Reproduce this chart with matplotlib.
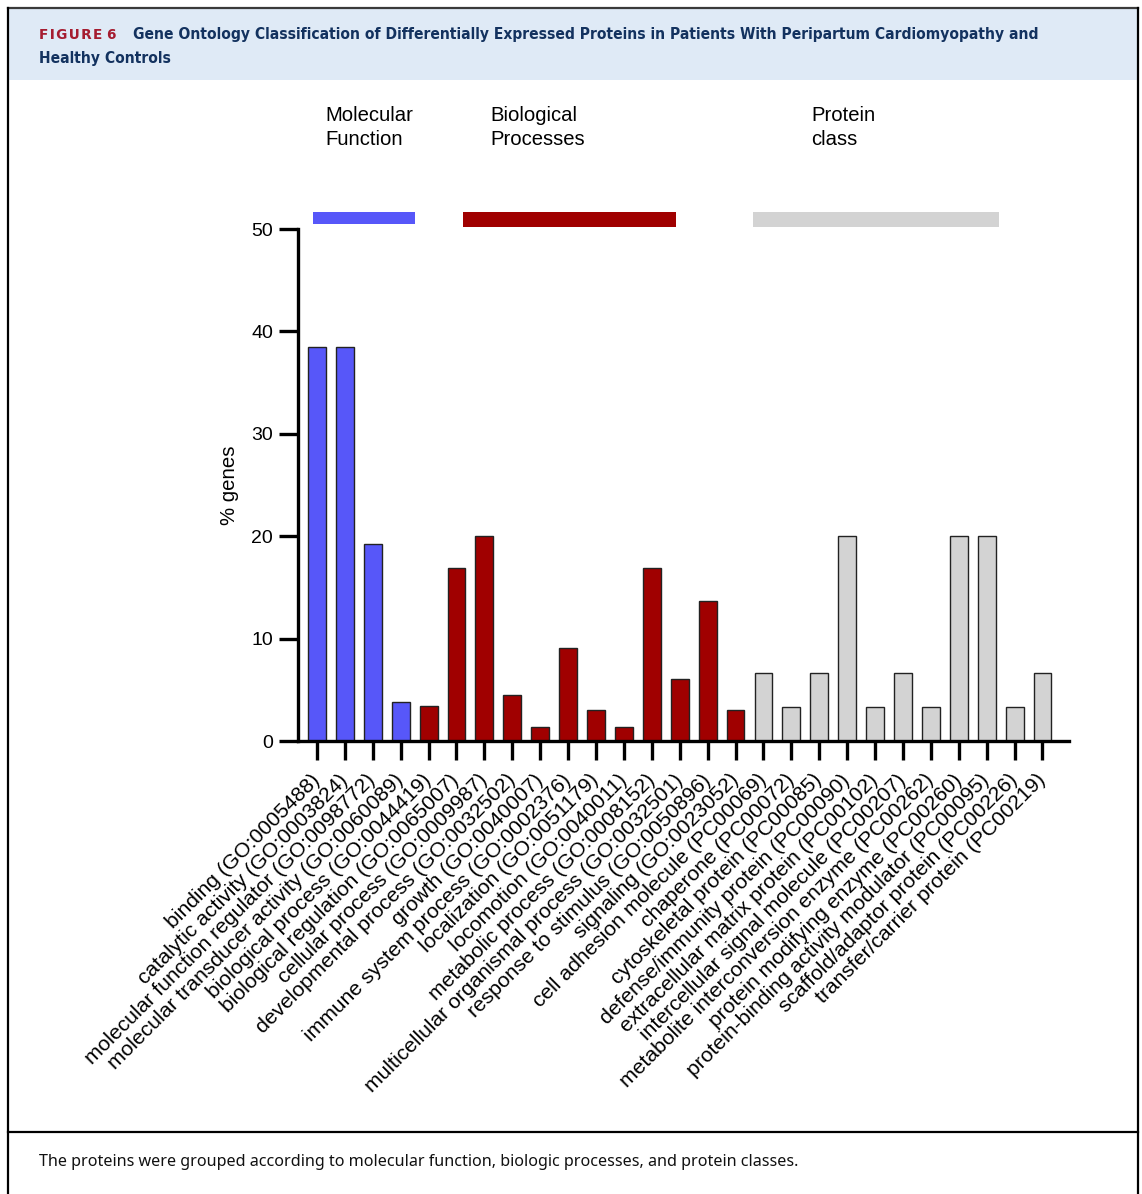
# -*- coding: utf-8 -*-
import matplotlib
matplotlib.use('Agg')
import matplotlib.pyplot as plt
from matplotlib.patches import Rectangle
from matplotlib.lines import Line2D

# data
mf_labels = ['binding (GO:0005488)', 'catalytic activity (GO:0003824)',
             'molecular function regulator (GO:0098772)',
             'molecular transducer activity (GO:0060089)']
mf_values = [38.5, 38.5, 19.2, 3.8]

bp_labels = ['biological process (GO:0044419)', 'biological regulation (GO:0065007)',
             'cellular process (GO:0009987)', 'developmental process (GO:0032502)',
             'growth (GO:0040007)', 'immune system process (GO:0002376)',
             'localization (GO:0051179)', 'locomotion (GO:0040011)',
             'metabolic process (GO:0008152)',
             'multicellular organismal process (GO:0032501)',
             'response to stimulus (GO:0050896)', 'signaling (GO:0023052)']
bp_values = [3.4, 16.9, 20.0, 4.5, 1.4, 9.1, 3.0, 1.4, 16.9, 6.1, 13.7, 3.0]

pc_labels = ['cell adhesion molecule (PC00069)', 'chaperone (PC00072)',
             'cytoskeletal protein (PC00085)', 'defense/immunity protein (PC00090)',
             'extracellular matrix protein (PC00102)',
             'intercellular signal molecule (PC00207)',
             'metabolite interconversion enzyme (PC00262)',
             'protein modifying enzyme (PC00260)',
             'protein-binding activity modulator (PC00095)',
             'scaffold/adaptor protein (PC00226)',
             'transfer/carrier protein (PC00219)']
pc_values = [6.6, 3.3, 6.6, 20.0, 3.3, 6.6, 3.3, 20.0, 20.0, 3.3, 6.6]

group_names = ['Molecular\nFunction', 'Biological\nProcesses', 'Protein\nclass']
group_colors = ['#5757f9', '#a00000', '#d3d3d3']

W, H = 1142, 1194
fig = plt.figure(figsize=(W / 100, H / 100), dpi=100)


def fx(px):
    return px / W


def fy(py):
    return 1 - py / H


# header band, frame and caption separator
fig.add_artist(Rectangle((fx(8), fy(80)), fx(1130), 72 / H, transform=fig.transFigure,
                         facecolor='#dfeaf6', edgecolor='none', zorder=0))
fig.add_artist(Line2D([fx(8), fx(1138)], [fy(8), fy(8)], color='#3a3a3a', lw=1.6))
fig.add_artist(Line2D([fx(8), fx(8)], [fy(8), 0], color='black', lw=1.6))
fig.add_artist(Line2D([fx(1138), fx(1138)], [fy(8), 0], color='black', lw=1.6))
fig.add_artist(Line2D([fx(8), fx(1138)], [fy(1132), fy(1132)], color='black', lw=1.6))

hair = '\u200a'
fig.text(fx(39), fy(39), hair.join('FIGURE') + ' 6', color='#a51c30', fontsize=9.8,
         fontweight='bold', family=['DejaVu Sans'], va='baseline')
fig.text(fx(133), fy(39), 'Gene Ontology Classification of Differentially Expressed Proteins '
         'in Patients With Peripartum Cardiomyopathy and', color='#13325f',
         fontsize=11.15, fontweight='bold', family='DejaVu Sans', fontstretch='condensed',
         va='baseline')
fig.text(fx(39), fy(63), 'Healthy Controls', color='#13325f', fontsize=11.15,
         fontweight='bold', family='DejaVu Sans', fontstretch='condensed', va='baseline')
fig.text(fx(39), fy(1162), 'The proteins were grouped according to molecular function, '
         'biologic processes, and protein classes.', color='#111111', fontsize=11.6,
         family='Noto Sans', va='center')

# chart
plt.rcParams['font.family'] = ['Liberation Sans', 'DejaVu Sans']
ax = fig.add_axes([fx(298), fy(741), fx(1069) - fx(298), 645 / H])

labels = mf_labels + bp_labels + pc_labels
values = mf_values + bp_values + pc_values
colors = ([group_colors[0]] * len(mf_values) + [group_colors[1]] * len(bp_values)
          + [group_colors[2]] * len(pc_values))
x = list(range(len(values)))
ax.bar(x, values, width=0.64, color=colors, edgecolor='#222222', linewidth=1.0,
       zorder=2)

ax.set_xlim(-0.68, len(values) - 0.05)
ax.set_ylim(0, 63)
ax.spines['top'].set_visible(False)
ax.spines['right'].set_visible(False)
ax.spines['left'].set_linewidth(2.4)
ax.spines['bottom'].set_linewidth(2.4)
ax.spines['left'].set_bounds(0, 50)
ax.set_yticks([0, 10, 20, 30, 40, 50])
ax.tick_params(axis='y', length=14, width=2.4, labelsize=14, pad=4)
ax.tick_params(axis='x', length=14, width=2.4, labelsize=15.2, pad=12)
ax.set_xticks(x)
ax.set_xticklabels(labels, rotation=45, ha='right', va='center',
                   rotation_mode='anchor')
ax.set_ylabel('% genes', fontsize=14.7)
ax.yaxis.set_label_coords(-0.077, 25 / 63)

# group headers and bars
group_spans = [(-0.14, 3.51, 50.5, 51.7), (5.22, 12.86, 50.2, 51.7),
               (15.63, 24.44, 50.2, 51.7)]
for name, col, (x0, x1, y0, y1) in zip(group_names, group_colors, group_spans):
    ax.add_patch(Rectangle((x0, y0), x1 - x0, y1 - y0, facecolor=col,
                           edgecolor='none', clip_on=False))
ax.text(0.29, 62.0, group_names[0], fontsize=14.6, va='top', ha='left', linespacing=1.3)
ax.text(6.2, 62.0, group_names[1], fontsize=14.6, va='top', ha='left', linespacing=1.3)
ax.text(17.7, 62.0, group_names[2], fontsize=14.6, va='top', ha='left', linespacing=1.3)

fig.savefig('out.png', dpi=100)
